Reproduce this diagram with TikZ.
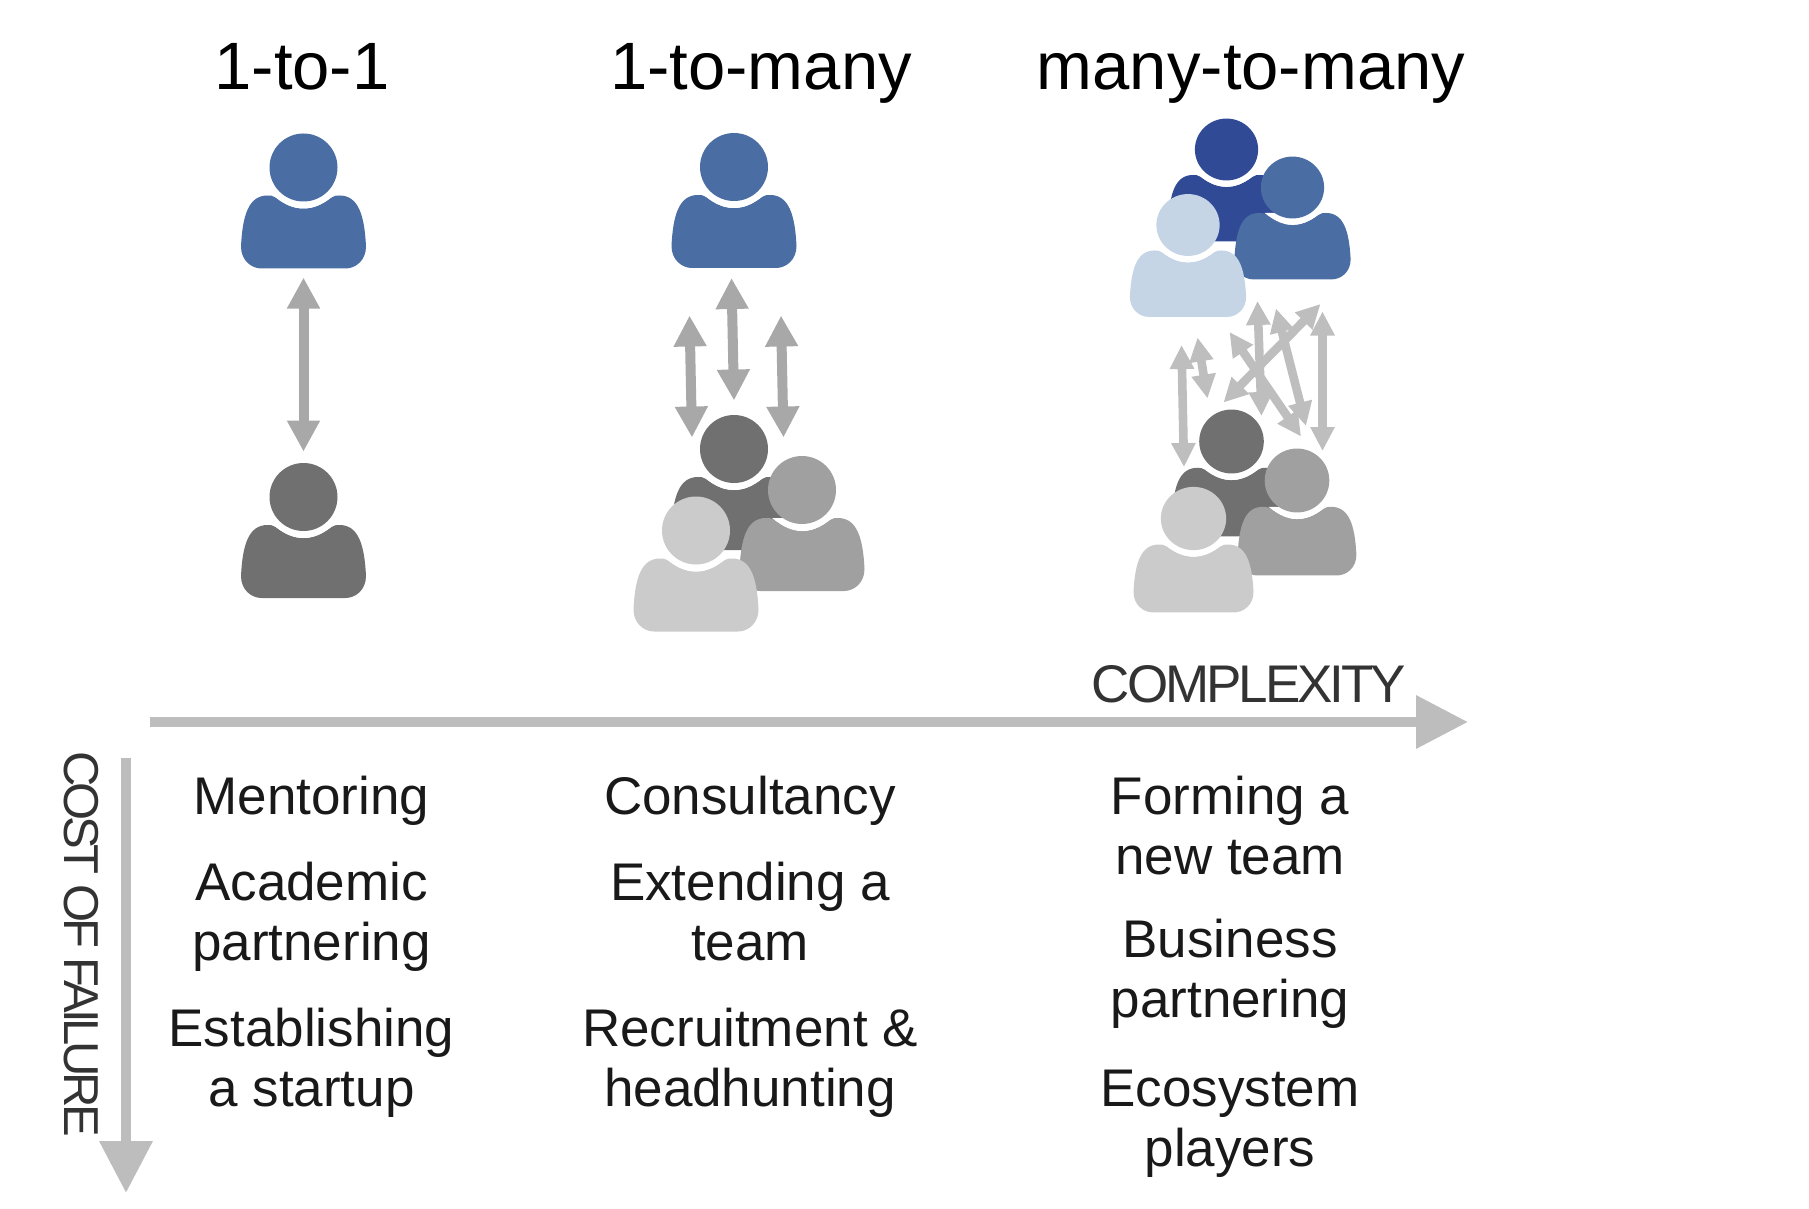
\documentclass[tikz,border=0pt]{standalone}
\usepackage{fontspec}
\setmainfont{Liberation Sans}
\usetikzlibrary{positioning,arrows.meta}

\definecolor{blueA}{HTML}{4A6DA3}
\definecolor{blueB}{HTML}{304A96}
\definecolor{blueC}{HTML}{C6D5E6}
\definecolor{greyA}{HTML}{707070}
\definecolor{greyB}{HTML}{A0A0A0}
\definecolor{greyC}{HTML}{CBCBCB}
\definecolor{linkA}{HTML}{A8A8A8}
\definecolor{linkB}{HTML}{BEBEBE}
\definecolor{axisgrey}{HTML}{BDBDBD}

\tikzset{
    person/.pic={
        \fill[#1] (-28,30) .. controls (-18,38) and (-9,41) .. (0,41) .. controls (9,41) and (18,38) .. (28,30)
            .. controls (31,28) and (33,28) .. (36,28) .. controls (55,28) and (61,48) .. (62.5,79)
            .. controls (62.5,93) and (52,101) .. (42,101) -- (-42,101)
            .. controls (-52,101) and (-62.5,93) .. (-62.5,79) .. controls (-61,48) and (-55,28) .. (-36,28)
            .. controls (-33,28) and (-31,28) .. (-28,30) -- cycle;
        \fill[white] (-30,28) .. controls (-18,38) and (-9,41) .. (0,41) .. controls (9,41) and (18,38) .. (30,28) -- cycle;
        \node[circle, fill=#1, inner sep=0pt, minimum size=34pt, transform shape] (-head) at (0,0) {};
        \coordinate (-foot) at (0,101);
    }
}

\begin{document}
\begin{tikzpicture}[
        x=0.5pt, y=-0.5pt,
        title/.style={font=\fontsize{33.5}{38}\selectfont, inner sep=0pt, anchor=base},
        item/.style={font=\fontsize{26.5}{30}\selectfont, align=center, inner sep=0pt, execute at begin node=\strut, execute at end node=\strut, text=black!90},
        axislabel/.style={inner sep=0pt, text=black!80},
        link/.style={draw=linkA, line width=5pt, {Triangle[length=15.5pt,width=15.5pt]}-{Triangle[length=15.5pt,width=15.5pt]}},
        thinlink/.style={draw=linkB, line width=4.3pt, {Triangle[length=12pt,width=11.5pt]}-{Triangle[length=12pt,width=11.5pt]}},
        axis/.style={draw=axisgrey, line width=5pt, -{Triangle[length=26pt,width=25.5pt]}}
    ]
    \useasboundingbox (0,0) rectangle (1809,1209);

    % column headings
    \node [title] (one) at (302,90) {1-to-1};
    \node [title] (few) at (761,90) {1-to-many};
    \node [title] (many) at (1251,90) {many-to-many};

    % people
    \pic (onetop) at (303.5,167.5) {person=blueA};
    \pic (onelow) at (303.5,497) {person=greyA};

    \pic (fewtop) at (734,167) {person=blueA};
    \pic (fewback) at (734,449) {person=greyA};
    \pic (fewright) at (802,490) {person=greyB};
    \pic (fewfront) at (696,530.5) {person=greyC};

    \pic[xscale=.93, yscale=.91] (manyback) at (1226.5,149.5) {person=blueB};
    \pic[xscale=.93, yscale=.91] (manyright) at (1292.5,187.5) {person=blueA};
    \pic[xscale=.93, yscale=.91] (manyfront) at (1188,225) {person=blueC};
    \pic[xscale=.95, yscale=.94] (lowback) at (1231.5,441.5) {person=greyA};
    \pic[xscale=.95, yscale=.94] (lowright) at (1297,480.5) {person=greyB};
    \pic[xscale=.96, yscale=.93] (lowfront) at (1193.5,518.5) {person=greyC};

    % link ends
    \coordinate (fa1) at (689.5,315.5); \coordinate (fa2) at (692,437.5);
    \coordinate (fb1) at (731.5,278); \coordinate (fb2) at (734,400.5);
    \coordinate (fc1) at (781,315.5); \coordinate (fc2) at (783.5,437.5);

    \coordinate (ma1) at (1181.5,345); \coordinate (ma2) at (1184,467);
    \coordinate (mb1) at (1197.5,337.5); \coordinate (mb2) at (1207.5,398.5);
    \coordinate (mc1) at (1229.5,332); \coordinate (mc2) at (1301,436.5);
    \coordinate (md1) at (1257.5,301); \coordinate (md2) at (1261.5,416);
    \coordinate (me1) at (1276,308.5); \coordinate (me2) at (1306,426);
    \coordinate (mf1) at (1320.5,304); \coordinate (mf2) at (1223.5,402.5);
    \coordinate (mg1) at (1322.5,311.5); \coordinate (mg2) at (1322.5,451);

    \path [link, shorten <=4.5pt, shorten >=5.5pt] (onetop-foot) -- (onelow-head);
    \path [link] (fa1) -- (fa2);
    \path [link] (fb1) -- (fb2);
    \path [link] (fc1) -- (fc2);

    \path [thinlink] (ma1) -- (ma2);
    \path [thinlink] (mb1) -- (mb2);
    \path [thinlink] (mc1) -- (mc2);
    \path [thinlink] (md1) -- (md2);
    \path [thinlink] (me1) -- (me2);
    \path [thinlink] (mf1) -- (mf2);
    \path [thinlink] (mg1) -- (mg2);

    % axes
    \coordinate (cx1) at (150,722); \coordinate (cx2) at (1468,722);
    \coordinate (cf1) at (126,758); \coordinate (cf2) at (126,1193);
    \path [axis] (cx1) -- (cx2);
    \path [axis] (cf1) -- (cf2);
    \node [axislabel, font=\fontsize{26.5}{30}\selectfont\addfontfeature{LetterSpace=-5.7}] (complexity) at (1249,684.5) {COMPLEXITY};
    \node [axislabel, font=\fontsize{24.5}{28}\selectfont\addfontfeature{LetterSpace=-8.5}, rotate=-90] (failure) at (81,944) {COST OF FAILURE};

    % examples
    \node [item, anchor=north] (mentor) at (311.5,772) {Mentoring};
    \node [item, below=14.5pt of mentor] (academic) {Academic\\partnering};
    \node [item, below=14.5pt of academic] (startup) {Establishing\\a startup};

    \node [item, anchor=north] (consult) at (750,772) {Consultancy};
    \node [item, below=14.5pt of consult] (extend) {Extending a\\team};
    \node [item, below=14.5pt of extend] (recruit) {Recruitment \&\\headhunting};

    \node [item, anchor=north] (forming) at (1230,775.5) {Forming a\\new team};
    \node [item, below=12.8pt of forming] (business) {Business\\partnering};
    \node [item, below=17pt of business] (ecosystem) {Ecosystem\\players};

\end{tikzpicture}
\end{document}
